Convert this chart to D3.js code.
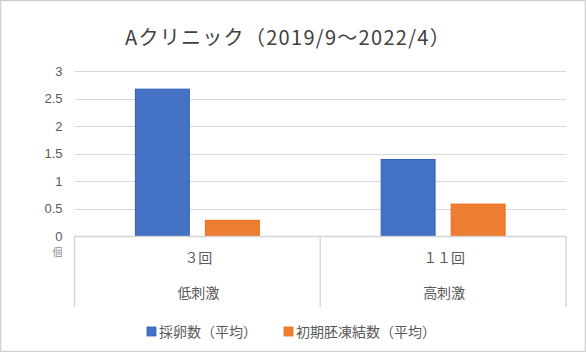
<!DOCTYPE html>
<html>
<head>
<meta charset="utf-8">
<script src="https://cdn.jsdelivr.net/npm/d3@7"></script>
<style>
  html, body { margin: 0; padding: 0; background: #fff; }
  svg { display: block; }
  text { font-family: "Noto Sans CJK JP", "Noto Sans", sans-serif; }
</style>
</head>
<body>
<script>
const title = "Aクリニック（2019/9〜2022/4）";
const categories = ["３回", "１１回"];
const groupLabels = ["低刺激", "高刺激"];
const seriesNames = ["採卵数（平均）", "初期胚凍結数（平均）"];
const seriesColors = ["#4472C4", "#ED7D31"];
const seriesStroke = ["#2f5fb8", "#f06a10"];
const eggs = [2.67, 1.39];
const frozen = [0.285, 0.58];
const yTicks = [0, 0.5, 1, 1.5, 2, 2.5, 3];
const unitLabel = "個";

(function () {
const W = 586, H = 352;
const svg = d3.select("body").append("svg").attr("width", W).attr("height", H);

// outer border
svg.append("rect").attr("x", 0.5).attr("y", 0.5).attr("width", W - 1).attr("height", H - 1)
  .attr("fill", "#fff").attr("stroke", "#d0d0d0").attr("stroke-width", 1.5);

const pLeft = 74.5, pRight = 566, pTop = 71, pBottom = 236, axisBottom = 307;

const x0 = d3.scaleBand().domain(categories).range([pLeft, pRight]).paddingInner(0).paddingOuter(0);
const x1 = d3.scaleBand().domain([0, 1]).range([0, x0.bandwidth()]).paddingInner(0.23).paddingOuter(0.87);
const y = d3.scaleLinear().domain([0, 3]).range([pBottom, pTop]);

// title
svg.append("text").attr("x", 288).attr("y", 44.5).attr("text-anchor", "middle")
  .attr("font-size", 20).attr("letter-spacing", 1.3).attr("fill", "#404040").text(title);

// gridlines
svg.append("g").selectAll("line").data(yTicks.filter(d => d > 0)).join("line")
  .attr("x1", pLeft).attr("x2", pRight)
  .attr("y1", d => Math.round(y(d)) + 0.5).attr("y2", d => Math.round(y(d)) + 0.5)
  .attr("stroke", "#d9d9d9").attr("stroke-width", 1.2);

// y axis labels
const yAxis = d3.axisLeft(y).tickValues(yTicks).tickSize(0).tickPadding(0).tickFormat(d3.format("~g"));
const yg = svg.append("g").attr("transform", `translate(${pLeft - 12},0)`).call(yAxis);
yg.select(".domain").remove();
yg.selectAll("text").attr("font-size", 13).attr("fill", "#595959")
  .style("font-family", "'Liberation Sans', 'Noto Sans', sans-serif");

svg.append("text").attr("x", pLeft - 12).attr("y", 256).attr("text-anchor", "end")
  .attr("font-size", 10).attr("fill", "#8c8c8c").text(unitLabel);

// bars
const series = [eggs, frozen];
const gBars = svg.append("g");
series.forEach((vals, si) => {
  gBars.selectAll(null).data(vals).join("rect")
    .attr("x", (d, i) => x0(categories[i]) + x1(si))
    .attr("width", x1.bandwidth())
    .attr("y", d => y(d))
    .attr("height", d => y(0) - y(d))
    .attr("fill", seriesColors[si])
    .attr("stroke", seriesStroke[si]).attr("stroke-width", 1);
});

// category axis box
const axisColor = "#d4d4d4";
svg.append("line").attr("x1", pLeft).attr("x2", pRight).attr("y1", pBottom + 0.5).attr("y2", pBottom + 0.5)
  .attr("stroke", axisColor).attr("stroke-width", 1.3);
const boundaries = categories.map(c => x0(c)).concat([x0(categories[categories.length - 1]) + x0.bandwidth()]);
svg.append("g").selectAll("line").data(boundaries).join("line")
  .attr("x1", d => d).attr("x2", d => d).attr("y1", pBottom).attr("y2", axisBottom)
  .attr("stroke", axisColor).attr("stroke-width", 1.3);

svg.append("g").selectAll("text").data(categories).join("text")
  .attr("x", d => x0(d) + x0.bandwidth() / 2 + 1).attr("y", 263)
  .attr("text-anchor", "middle").attr("font-size", 14).attr("fill", "#595959").text(d => d);
svg.append("g").selectAll("text").data(groupLabels).join("text")
  .attr("x", (d, i) => x0(categories[i]) + x0.bandwidth() / 2 + 1).attr("y", 298)
  .attr("text-anchor", "middle").attr("font-size", 14).attr("fill", "#595959").text(d => d);

// legend
const legendX = [147, 284];
const lg = svg.append("g");
seriesNames.forEach((name, i) => {
  lg.append("rect").attr("x", legendX[i]).attr("y", 327).attr("width", 9).attr("height", 9)
    .attr("fill", seriesColors[i]).attr("stroke", seriesStroke[i]).attr("stroke-width", 0.8);
  lg.append("text").attr("x", legendX[i] + 12).attr("y", 336.5)
    .attr("font-size", 14).attr("fill", "#595959").text(name);
});
})();
</script>
</body>
</html>
